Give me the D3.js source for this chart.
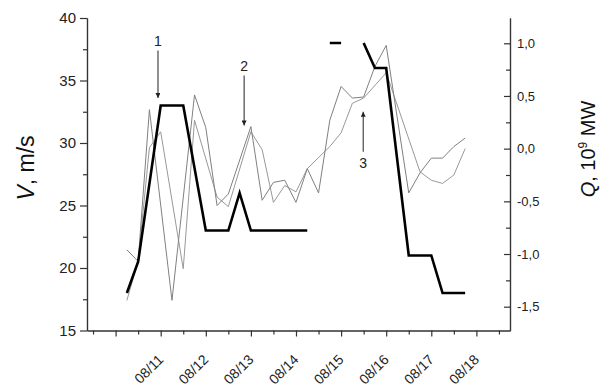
<!DOCTYPE html>
<html>
<head>
<meta charset="utf-8">
<script src="https://cdn.jsdelivr.net/npm/d3@7"></script>
<style>
  body { margin: 0; background: #fff; }
  svg { font-family: "Liberation Sans", Arial, sans-serif; }
</style>
</head>
<body>
<div id="vis"></div>
<script>
// wind speed V (thick line), days of August
const vDays = [10.25, 10.5, 11, 11.5, 12, 12.5, 12.75, 13, 14.25, null, 14.75, 15, null, 15.5, 15.75, 16, 16.5, 17, 17.25, 17.75];
const vValues = [18, 20.5, 33, 33, 23, 23, 26, 23, 23, null, 38, 38, null, 38, 36, 36, 21, 21, 18, 18];

// Q, two thin grey series
const q1Days = [10.25, 10.5, 10.75, 11.25, 11.75, 12, 12.25, 12.5, 13, 13.25, 13.5, 13.75, 14, 14.25, 14.5, 14.75, 15, 15.25, 15.5, 15.75, 16, 16.5, 16.75, 17, 17.25, 17.5, 17.75];
const q1Values = [-0.96, -1.07, 0.37, -1.44, 0.51, 0.2, -0.54, -0.43, 0.21, -0.49, -0.32, -0.3, -0.51, -0.19, -0.42, 0.27, 0.59, 0.48, 0.49, 0.78, 0.98, -0.42, -0.23, -0.09, -0.09, 0.02, 0.1];

const q2Days = [10.25, 10.5, 10.75, 11, 11.5, 11.75, 12.25, 12.5, 13, 13.25, 13.5, 13.75, 14, 14.25, 14.75, 15, 15.25, 15.5, 16, 16.75, 17, 17.25, 17.5, 17.75];
const q2Values = [-1.44, -1.07, 0.01, 0.16, -1.14, 0.27, -0.46, -0.55, 0.16, -0.01, -0.51, -0.35, -0.41, -0.19, 0.02, 0.15, 0.43, 0.48, 0.72, -0.22, -0.3, -0.33, -0.25, 0.0];

const dayTicks = [10, 11, 12, 13, 14, 15, 16, 17, 18];
const dayLabels = ["", "08/11", "08/12", "08/13", "08/14", "08/15", "08/16", "08/17", "08/18"];
const vTicks = [15, 20, 25, 30, 35, 40];
const qTicks = [-1.5, -1, -0.5, 0, 0.5, 1];

// arrows: day, start and end in V units, label
const arrows = [
  { day: 10.94, y0: 37.4, y1: 33.6, label: "1" },
  { day: 12.85, y0: 35.4, y1: 31.4, label: "2" },
  { day: 15.49, y0: 29.3, y1: 32.5, label: "3" }
];

const width = 602;
const height = 387;
const pLeft = 87, pRight = 510, pTop = 18, pBottom = 330.5;

const x = d3.scaleLinear().domain([9.366, 18.745]).range([pLeft, pRight]);
const yV = d3.scaleLinear().domain([15, 40]).range([pBottom, pTop]);
const yQ = d3.scaleLinear().domain([-1.726, 1.24]).range([pBottom, pTop]);

const svg = d3.select("#vis").append("svg")
  .attr("width", width)
  .attr("height", height);

const fmtQ = (d) => d3.format(".1f")(d).replace(".", ",").replace("−", "-");

// left axis
const axL = svg.append("g").attr("transform", `translate(${pLeft},0)`)
  .call(d3.axisLeft(yV).tickValues(vTicks).tickSize(7).tickPadding(4).tickSizeOuter(0));
svg.append("g").attr("transform", `translate(${pLeft},0)`)
  .call(d3.axisLeft(yV).tickValues(d3.range(17.5, 40, 5)).tickSize(4).tickFormat("").tickSizeOuter(0));

// right axis, ticks point inwards
const axR = svg.append("g").attr("transform", `translate(${pRight},0)`)
  .call(d3.axisRight(yQ).tickValues(qTicks).tickSize(-6).tickPadding(7).tickFormat(fmtQ).tickSizeOuter(0));
svg.append("g").attr("transform", `translate(${pRight},0)`)
  .call(d3.axisRight(yQ).tickValues([-1.25, -0.75, -0.25, 0.25, 0.75]).tickSize(-4).tickFormat("").tickSizeOuter(0));

// bottom axis
const axB = svg.append("g").attr("transform", `translate(0,${pBottom})`)
  .call(d3.axisBottom(x).tickValues(dayTicks).tickSize(6).tickFormat((d, i) => dayLabels[i]).tickSizeOuter(0));
svg.append("g").attr("transform", `translate(0,${pBottom})`)
  .call(d3.axisBottom(x).tickValues(d3.range(9.5, 18.6, 1)).tickSize(4).tickFormat("").tickSizeOuter(0));

axB.selectAll("text")
  .attr("text-anchor", "end")
  .attr("dx", 0)
  .attr("dy", 0)
  .attr("y", 0)
  .attr("transform", "translate(3,30) rotate(-45)")
  .style("font-size", "14px");

svg.selectAll(".domain, .tick line").attr("stroke", "#333").attr("stroke-width", 1.2);
svg.selectAll(".tick text").attr("fill", "#222");
axL.selectAll("text").style("font-size", "15px");
axR.selectAll("text").style("font-size", "13px");

// series
const vData = vDays.map((d, i) => ({ d, v: vValues[i] }));
const q1Data = q1Days.map((d, i) => ({ d, v: q1Values[i] }));
const q2Data = q2Days.map((d, i) => ({ d, v: q2Values[i] }));

const lineQ = d3.line().x((p) => x(p.d)).y((p) => yQ(p.v));
const lineV = d3.line().defined((p) => p.d !== null).x((p) => x(p.d)).y((p) => yV(p.v));

svg.append("path").datum(q2Data).attr("d", lineQ)
  .attr("fill", "none").attr("stroke", "#999").attr("stroke-width", 1);
svg.append("path").datum(q1Data).attr("d", lineQ)
  .attr("fill", "none").attr("stroke", "#808080").attr("stroke-width", 1);
svg.append("path").datum(vData).attr("d", lineV)
  .attr("fill", "none").attr("stroke", "#000").attr("stroke-width", 2.6)
  .attr("stroke-linejoin", "miter");

// arrows
const defs = svg.append("defs");
defs.append("marker").attr("id", "ah").attr("viewBox", "0 0 10 10")
  .attr("refX", 10).attr("refY", 5).attr("markerWidth", 8).attr("markerHeight", 5)
  .attr("markerUnits", "userSpaceOnUse").attr("orient", "auto")
  .append("path").attr("d", "M0,0 L10,5 L0,10 Z").attr("fill", "#222");

arrows.forEach((a) => {
  svg.append("line")
    .attr("x1", x(a.day)).attr("x2", x(a.day))
    .attr("y1", yV(a.y0)).attr("y2", yV(a.y1))
    .attr("stroke", "#222").attr("stroke-width", 1)
    .attr("marker-end", "url(#ah)");
  const up = a.y1 > a.y0;
  svg.append("text")
    .attr("x", x(a.day))
    .attr("y", up ? yV(a.y0) + 16 : yV(a.y0) - 5)
    .attr("text-anchor", "middle")
    .style("font-size", "14px")
    .attr("fill", "#222")
    .text(a.label);
});

// axis titles
const tl = svg.append("text")
  .attr("transform", "translate(34,168) rotate(-90)")
  .attr("text-anchor", "middle")
  .style("font-size", "23px")
  .attr("fill", "#111");
tl.append("tspan").style("font-style", "italic").text("V");
tl.append("tspan").text(", m/s");

const tr = svg.append("text")
  .attr("transform", "translate(595,149) rotate(-90)")
  .attr("text-anchor", "middle")
  .style("font-size", "20px")
  .attr("fill", "#111");
tr.append("tspan").style("font-style", "italic").text("Q");
tr.append("tspan").text(", 10");
tr.append("tspan").attr("dy", -8).style("font-size", "12px").text("9");
tr.append("tspan").attr("dy", 8).text(" MW");
</script>
</body>
</html>
